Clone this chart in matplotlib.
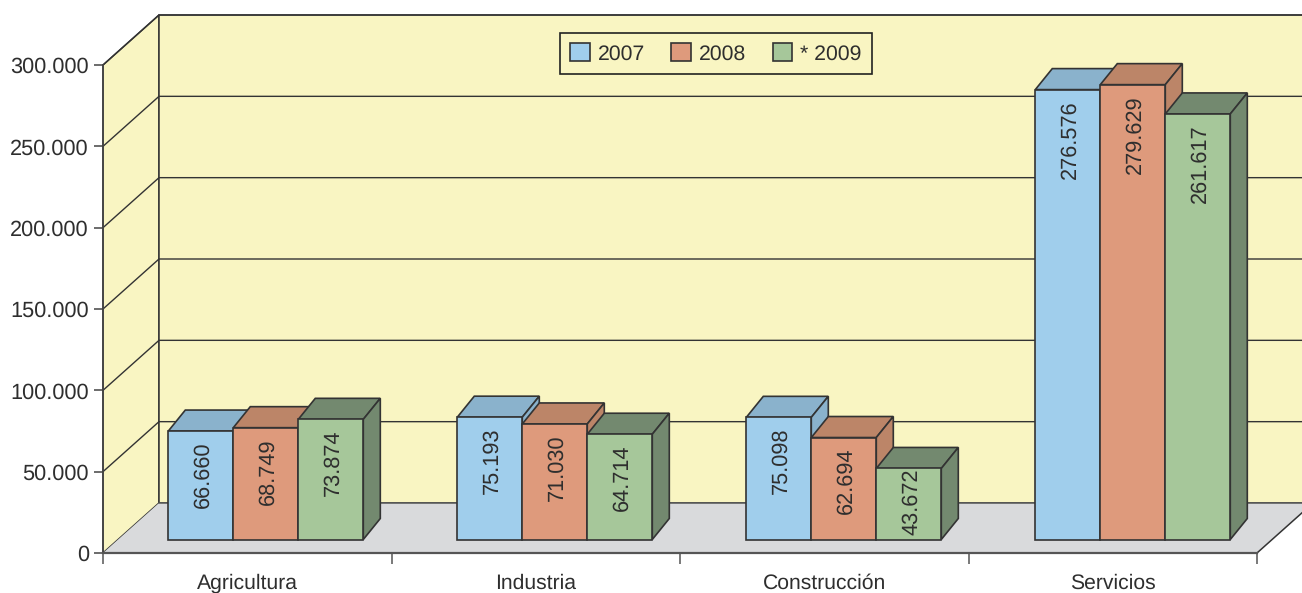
import matplotlib
matplotlib.use('Agg')
import matplotlib.pyplot as plt
from matplotlib.patches import Polygon, Patch

plt.rcParams['font.family'] = ['Liberation Sans', 'DejaVu Sans']
plt.rcParams['text.hinting'] = 'no_hinting'

categories = ['Agricultura', 'Industria', 'Construcción', 'Servicios']
v2007 = [66660, 75193, 75098, 276576]
v2008 = [68749, 71030, 62694, 279629]
v2009 = [73874, 64714, 43672, 261617]
series_names = ['2007', '2008', '* 2009']
yticks = [0, 50000, 100000, 150000, 200000, 250000, 300000]

front_colors = ['#A0CEEC', '#DE9A7C', '#A6C79A']
dark_colors = ['#8AB2CC', '#BC8568', '#73896F']
line = '#333333'
text_col = '#2E2E2E'

W, H = 1302, 593
px_x = 288.5              # pixels per category
px_y = 488 / 300000       # pixels per unit
fs = 15.7

def dx(p):
    return p / px_x

def dy(p):
    return p / px_y

def fmt(v):
    return f'{v:,}'.replace(',', '.')

fig = plt.figure(figsize=(W / 100, H / 100), dpi=100)
ax = fig.add_axes([0, 0, 1, 1])
ax.patch.set_visible(False)
ax.set_xlim(dx(-103), dx(W - 103))
ax.set_ylim(dy(553 - H), dy(553))

# walls and floor
wx, wy = dx(56), dy(50)
ymax = yticks[-1]
n = len(categories)
ax.add_patch(Polygon([(0, 0), (wx, wy), (wx, ymax + wy), (0, ymax)], fc='#F9F5C2', ec=line, lw=1.1, zorder=1))
ax.add_patch(Polygon([(wx, wy), (n + wx + 1, wy), (n + wx + 1, ymax + wy), (wx, ymax + wy)], fc='#F9F5C2', ec=line, lw=1.1, zorder=1))
ax.add_patch(Polygon([(0, 0), (wx, wy), (n + wx, wy), (n, 0)], fc='#D9DADC', ec='none', zorder=2))
ax.plot([n, n + wx], [0, wy], color=line, lw=1.1, zorder=2)
ax.plot([wx, n + wx + 1], [wy, wy], color='#555555', lw=1.1, zorder=2)
for t in yticks[1:]:
    ax.plot([0, wx, n + wx + 1], [t, t + wy, t + wy], color=line, lw=1.0, zorder=2)

# bars
bar_w = dx(65)
base = dy(13.5)
bx, by = dx(17), dy(21)
start = dx(65.3)
for s, vals in enumerate([v2007, v2008, v2009]):
    for i, v in enumerate(vals):
        x0 = i * dx(289) + start + s * bar_w
        x1 = x0 + bar_w
        top = base + v
        ax.add_patch(Polygon([(x0, top), (x0 + bx, top + by), (x1 + bx, top + by), (x1, top)],
                             fc=dark_colors[s], ec=line, lw=1.2, zorder=3 + s))
        ax.add_patch(Polygon([(x1, base), (x1 + bx, base + by), (x1 + bx, top + by), (x1, top)],
                             fc=dark_colors[s], ec=line, lw=1.2, zorder=3 + s))
        ax.add_patch(Polygon([(x0, base), (x1, base), (x1, top), (x0, top)],
                             fc=front_colors[s], ec=line, lw=1.2, zorder=3 + s))
        if v < 50000:
            ax.annotate(fmt(v), ((x0 + x1) / 2, base + v / 2), xytext=(1.8, 1.5), textcoords='offset points',
                        rotation=90, ha='center', va='center', fontsize=fs, color=text_col, zorder=8)
        else:
            ax.annotate(fmt(v), ((x0 + x1) / 2, top), xytext=(1.8, -7.5), textcoords='offset points',
                        rotation=90, ha='center', va='top', fontsize=fs, color=text_col, zorder=8)

# axes
for side in ['top', 'right']:
    ax.spines[side].set_visible(False)
ax.spines['left'].set_position(('data', 0))
ax.spines['bottom'].set_position(('data', 0))
ax.spines['left'].set_bounds(0, ymax)
ax.spines['bottom'].set_bounds(0, n)
ax.spines['left'].set_color('#444444')
ax.spines['bottom'].set_color('#555555')
ax.spines['left'].set_linewidth(1.2)
ax.spines['bottom'].set_linewidth(1.6)
ax.spines['left'].set_zorder(9)
ax.spines['bottom'].set_zorder(9)

ax.set_yticks(yticks)
ax.set_yticklabels([fmt(t) for t in yticks], fontsize=fs, color=text_col)
ax.tick_params(axis='y', direction='out', length=6.5, width=1.1, color='#444444', pad=3.7)
ax.set_xticks(range(n + 1))
ax.set_xticklabels([''] * (n + 1))
ax.tick_params(axis='x', direction='out', length=8, width=1.1, color='#555555')
ax.set_xticks([i + 0.5 for i in range(n)], minor=True)
ax.set_xticklabels(categories, minor=True, fontsize=15.2, color=text_col)
ax.tick_params(axis='x', which='minor', length=0, pad=15)

handles = [Patch(fc=c, ec=line, lw=1.2) for c in front_colors]
leg = ax.legend(handles, series_names, ncol=3, loc='center', bbox_to_anchor=(716 / W, 1 - 53.5 / H),
                bbox_transform=fig.transFigure, fontsize=15.3, frameon=True, fancybox=False,
                edgecolor='#222222', facecolor='#F9F5C2', framealpha=1,
                handlelength=0.93, handleheight=0.93, handletextpad=0.37, columnspacing=1.24,
                borderpad=0.48, borderaxespad=0, labelcolor=text_col)
leg.get_frame().set_linewidth(1.2)
leg.set_zorder(10)

fig.savefig('out.png', dpi=100)
